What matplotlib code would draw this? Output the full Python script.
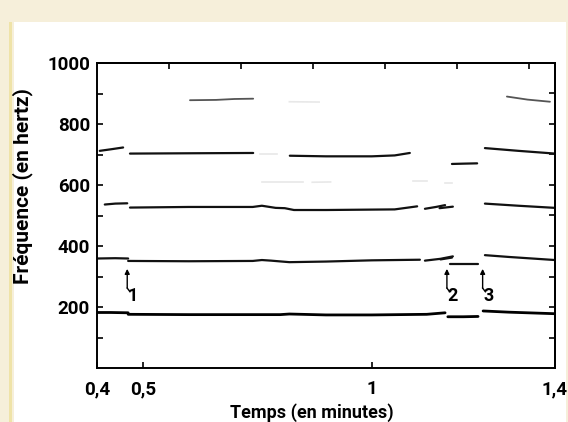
import matplotlib.pyplot as plt
from matplotlib.patches import Rectangle

# Temps (minutes) / fréquence (Hz) des traits du spectrogramme
h1_segments = [
    ([0.400, 0.430, 0.468], [182, 182, 181]),
    ([0.468, 0.600, 0.800, 0.820, 0.900, 1.000, 1.120, 1.160], [176, 175, 175, 177, 174, 174, 176, 181]),
    ([1.166, 1.200, 1.232], [168, 168, 169]),
    ([1.243, 1.300, 1.400], [187, 183, 178]),
]
h2_segments = [
    ([0.400, 0.440, 0.468], [359, 360, 359]),
    ([0.468, 0.600, 0.740, 0.760, 0.780, 0.820, 0.900, 1.000, 1.105], [351, 350, 351, 354, 352, 347, 349, 353, 355]),
    ([1.116, 1.150, 1.177], [352, 358, 366]),
    ([1.150, 1.175], [356, 362]),
    ([1.171, 1.200, 1.232], [340, 340, 340]),
    ([1.247, 1.300, 1.400], [370, 364, 354]),
]
h3_segments = [
    ([0.417, 0.440, 0.466], [536, 539, 540]),
    ([0.472, 0.600, 0.740, 0.760, 0.790, 0.810, 0.830, 0.900, 1.050, 1.099], [526, 528, 528, 532, 525, 524, 518, 518, 520, 530]),
    ([1.116, 1.140, 1.160], [522, 528, 534]),
    ([1.148, 1.177], [524, 529]),
    ([1.247, 1.320, 1.400], [539, 532, 525]),
]
h4_segments = [
    ([0.406, 0.430, 0.457], [712, 717, 723]),
    ([0.472, 0.600, 0.741], [703, 704, 705]),
    ([0.821, 0.900, 1.000, 1.050, 1.083], [696, 694, 694, 697, 705]),
    ([1.175, 1.200, 1.230], [669, 670, 671]),
    ([1.247, 1.320, 1.400], [721, 712, 703]),
]
h5_segments = [
    ([0.603, 0.660, 0.700, 0.741], [878, 879, 882, 883]),
    ([1.295, 1.340, 1.389], [890, 880, 873]),
]
# traces très pâles
faint_segments = [
    ([0.756, 0.793], [702, 702]),
    ([0.760, 0.850], [611, 611]),
    ([0.870, 0.910], [609, 610]),
    ([1.090, 1.120], [612, 612]),
    ([1.160, 1.175], [608, 608]),
    ([0.820, 0.885], [873, 872]),
]

arrow_t = [0.466, 1.164, 1.242]
arrow_labels = ["1", "2", "3"]
arrow_head_f = 325
arrow_tail_f = 262
arrow_text_f = 235

x_ticks = [0.4, 0.5, 1.0, 1.4]
x_ticklabels = ["0,4", "0,5", "1", "1,4"]
y_ticks = [200, 400, 600, 800, 1000]
y_minor = [100, 300, 500, 700, 900]
right_ticks = [100, 200, 300, 400, 500, 600, 700, 800, 900]
top_ticks = [0.557, 0.714, 0.871, 1.029, 1.186, 1.343]

plt.rcParams["font.family"] = ["Roboto", "DejaVu Sans"]

fig = plt.figure(figsize=(5.68, 4.22), dpi=100, facecolor="#f6efda")
fig.patches.append(Rectangle((14 / 568, 0), 552 / 568, 1 - 22 / 422,
                             transform=fig.transFigure, facecolor="white",
                             edgecolor="none", zorder=-2))
fig.patches.append(Rectangle((9 / 568, 0), 3 / 568, 1 - 22 / 422,
                             transform=fig.transFigure, facecolor="#efe3a8",
                             edgecolor="none", zorder=-2))

ax = fig.add_axes([97 / 568, 1 - 368 / 422, 458 / 568, 305 / 422])
ax.set_zorder(1)
ax.set_facecolor("white")

for t, f in h1_segments:
    ax.plot(t, f, color="black", lw=2.0, solid_capstyle="round")
for segs in (h2_segments, h3_segments, h4_segments):
    for t, f in segs:
        ax.plot(t, f, color="#111111", lw=1.6, solid_capstyle="round")
for t, f in h5_segments:
    ax.plot(t, f, color="#555555", lw=1.3, solid_capstyle="round")
for t, f in faint_segments:
    ax.plot(t, f, color="#e8e8e8", lw=1.2)

for t, lab in zip(arrow_t, arrow_labels):
    ax.annotate("", xy=(t, arrow_head_f), xytext=(t, arrow_tail_f),
                arrowprops=dict(arrowstyle="-|>", color="black", lw=1.0,
                                mutation_scale=7, shrinkA=0, shrinkB=0))
    ax.plot([t, t + 0.006], [arrow_tail_f, arrow_tail_f - 12], color="black", lw=1.0)
    ax.text(t + 0.012, arrow_text_f, lab, ha="center", va="center",
            fontsize=13, fontweight="bold")

ax.set_xlim(0.4, 1.4)
ax.set_ylim(0, 1000)
ax.set_xticks(x_ticks)
ax.set_xticklabels(x_ticklabels)
ax.set_yticks(y_ticks)
ax.set_yticks(y_minor, minor=True)
ax.tick_params(axis="both", which="both", direction="in", length=4, width=1.2,
               labelsize=13.5)
ax.tick_params(axis="x", pad=9)
ax.tick_params(axis="y", pad=5)
for lab in ax.get_xticklabels() + ax.get_yticklabels():
    lab.set_fontweight("bold")

sec_top = ax.secondary_xaxis("top")
sec_top.set_xticks(top_ticks)
sec_top.tick_params(direction="in", length=4, width=1.2, labeltop=False)
sec_right = ax.secondary_yaxis("right")
sec_right.set_yticks(right_ticks)
sec_right.tick_params(direction="in", length=4, width=1.2, labelright=False)

for sp in list(ax.spines.values()) + [sec_top.spines["top"], sec_right.spines["right"]]:
    sp.set_linewidth(1.4)

ax.set_xlabel("Temps (en minutes)", fontsize=13, fontweight="bold")
ax.set_ylabel("Fréquence (en hertz)", fontsize=15, fontweight="bold")
ax.xaxis.set_label_coords(0.47, -0.115)
ax.yaxis.set_label_coords(-0.14, 0.595)

fig.savefig("out.png", dpi=100, facecolor=fig.get_facecolor())
